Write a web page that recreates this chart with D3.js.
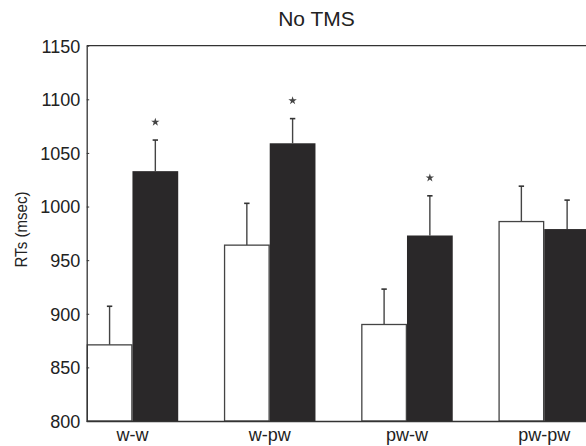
<!DOCTYPE html>
<html><head><meta charset="utf-8">
<script src="https://cdn.jsdelivr.net/npm/d3@7"></script>
<style>
html,body{margin:0;padding:0;background:#fff;}
svg{display:block;font-family:"Liberation Sans",Arial,sans-serif;}
</style></head>
<body>
<script>
const categories = ["w-w", "w-pw", "pw-w", "pw-pw"];
const series = ["white", "black"];
const whiteValues = [871, 964, 890, 986];
const whiteErrors = [36, 39, 33, 33];
const blackValues = [1033, 1059, 973, 979];
const blackErrors = [29, 23, 37, 27];
const significant = [true, true, true, false];
const yTicks = [800, 850, 900, 950, 1000, 1050, 1100, 1150];
const title = "No TMS";
const yLabel = "RTs (msec)";

const W = 586, H = 446;
const svg = d3.select("body").append("svg").attr("width", W).attr("height", H);

const mLeft = 86.7, mTop = 45.7, mBottom = 421;
const x = d3.scaleBand().domain(categories).range([mLeft, 590]).paddingInner(1/3).paddingOuter(0).align(0);
const xs = d3.scaleBand().domain(series).range([0, x.bandwidth()]);
const y = d3.scaleLinear().domain([800, 1150]).range([mBottom, mTop]);

const data = categories.map((c, i) => ({
  c,
  bars: [
    {s: "white", v: whiteValues[i], e: whiteErrors[i], sig: false},
    {s: "black", v: blackValues[i], e: blackErrors[i], sig: significant[i]}
  ]
}));

const ink = "#333";
const font = "Liberation Sans, Arial, sans-serif";

// top frame line
svg.append("line").attr("x1", mLeft).attr("x2", W).attr("y1", y(1150)).attr("y2", y(1150))
  .attr("stroke", ink).attr("stroke-width", 1.3);

const g = svg.selectAll("g.grp").data(data).enter().append("g").attr("class", "grp")
  .attr("transform", d => `translate(${x(d.c)},0)`);

// error bars (behind bars)
const eb = g.selectAll("g.eb").data(d => d.bars).enter().append("g").attr("class", "eb");
eb.append("line")
  .attr("x1", d => xs(d.s) + xs.bandwidth()/2).attr("x2", d => xs(d.s) + xs.bandwidth()/2)
  .attr("y1", d => y(d.v)).attr("y2", d => y(d.v + d.e))
  .attr("stroke", "#444").attr("stroke-width", 1.4);
eb.append("line")
  .attr("x1", d => xs(d.s) + xs.bandwidth()/2 - 2.7).attr("x2", d => xs(d.s) + xs.bandwidth()/2 + 2.7)
  .attr("y1", d => y(d.v + d.e)).attr("y2", d => y(d.v + d.e))
  .attr("stroke", "#333").attr("stroke-width", 1.6);

g.selectAll("rect").data(d => d.bars).enter().append("rect")
  .attr("x", d => xs(d.s) + (d.s === "white" ? 0.6 : 0))
  .attr("width", d => xs.bandwidth() - (d.s === "white" ? 1.2 : 0))
  .attr("y", d => y(d.v))
  .attr("height", d => y(800) - y(d.v))
  .attr("fill", d => d.s === "white" ? "#fff" : "#2a2829")
  .attr("stroke", d => d.s === "white" ? "#444" : "none")
  .attr("stroke-width", 1.3);

// significance stars
g.selectAll("path.star").data(d => d.bars.filter(b => b.sig)).enter().append("path")
  .attr("class", "star")
  .attr("d", d3.symbol().type(d3.symbolStar).size(22))
  .attr("transform", d => `translate(${xs(d.s) + xs.bandwidth()/2},${y(d.v + d.e) - 18})`)
  .attr("fill", "#444");

// y axis
const yAxis = d3.axisLeft(y).tickValues(yTicks).tickSizeInner(-2.5).tickSizeOuter(0).tickPadding(6.5).tickFormat(d3.format("d"));
const ya = svg.append("g").attr("transform", `translate(${mLeft},0)`).call(yAxis);
ya.select(".domain").attr("stroke", ink).attr("stroke-width", 1.3);
ya.selectAll(".tick line").attr("stroke", ink);
ya.selectAll("text").attr("font-size", 18).attr("fill", "#222").attr("font-family", font).attr("dy", "0.35em");

// x axis (baseline)
const xAxis = d3.axisBottom(x).tickSize(0).tickPadding(7.5);
const xa = svg.append("g").attr("transform", `translate(0,${mBottom})`).call(xAxis);
xa.select(".domain").attr("stroke", ink).attr("stroke-width", 1.6).attr("d", `M${mLeft},0.5H${W}`);
xa.selectAll("text").attr("font-size", 18).attr("fill", "#222").attr("font-family", font);

// title
svg.append("text").attr("x", 316.5).attr("y", 26).attr("text-anchor", "middle")
  .attr("font-size", 21).attr("fill", "#222").attr("font-family", font).text(title);

// y label
svg.append("text").attr("transform", `translate(26.5,229.5) rotate(-90)`)
  .attr("text-anchor", "middle").attr("font-size", 16.2)
  .attr("textLength", 76).attr("lengthAdjust", "spacingAndGlyphs")
  .attr("fill", "#222").attr("font-family", font).text(yLabel);
</script>
</body></html>
